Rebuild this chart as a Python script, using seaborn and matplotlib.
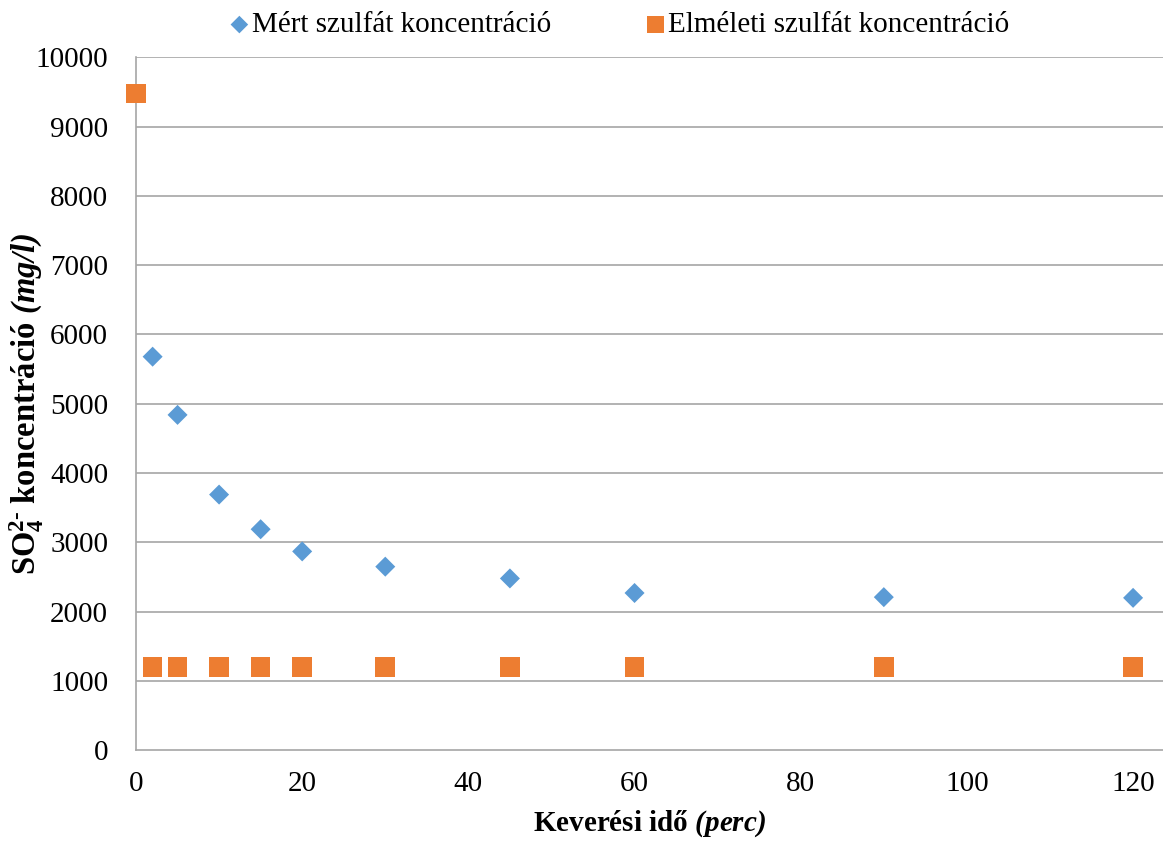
import matplotlib
matplotlib.use("Agg")
import matplotlib.pyplot as plt
import seaborn as sns
import pandas as pd

# Data
time_measured = [2, 5, 10, 15, 20, 30, 45, 60, 90, 120]
sulfate_measured = [5680, 4840, 3690, 3190, 2870, 2650, 2480, 2270, 2210, 2200]
time_theoretical = [0, 2, 5, 10, 15, 20, 30, 45, 60, 90, 120]
sulfate_theoretical = [9480, 1200, 1200, 1200, 1200, 1200, 1200, 1200, 1200, 1200, 1200]
series_names = ["Mért szulfát koncentráció", "Elméleti szulfát koncentráció"]
x_ticks = [0, 20, 40, 60, 80, 100, 120]
y_ticks = list(range(0, 10001, 1000))

sns.set_theme(style="white")
plt.rcParams['font.family'] = ['Liberation Serif', 'DejaVu Serif']
plt.rcParams['text.color'] = 'black'
plt.rcParams['axes.labelcolor'] = 'black'
plt.rcParams['xtick.color'] = 'black'
plt.rcParams['ytick.color'] = 'black'
plt.rcParams['mathtext.fontset'] = 'custom'
plt.rcParams['mathtext.rm'] = 'Liberation Serif:italic:bold'
plt.rcParams['mathtext.it'] = 'Liberation Serif:italic:bold'
plt.rcParams['mathtext.bf'] = 'Liberation Serif:bold'

df_m = pd.DataFrame({"t": time_measured, "c": sulfate_measured})
df_t = pd.DataFrame({"t": time_theoretical, "c": sulfate_theoretical})

fig = plt.figure(figsize=(11.63, 8.41), dpi=100)
ax = fig.add_axes([136/1163, 1 - 750.3/841, 1 - 136/1163, (750.3 - 57.3)/841])

grid_c = "#a6a6a6"
for yv in y_ticks[1:]:
    ax.axhline(yv, color=grid_c, lw=1.2, zorder=0)

sns.scatterplot(data=df_m, x="t", y="c", ax=ax, marker="D", s=104, color="#5B9BD5",
                edgecolor="none", label=series_names[0], clip_on=False, zorder=3)
sns.scatterplot(data=df_t, x="t", y="c", ax=ax, marker="s", s=200, color="#ED7D31",
                edgecolor="none", label=series_names[1], clip_on=False, zorder=3)

ax.set_xlim(0, 123.6)
ax.set_ylim(0, 10000)
ax.set_xticks(x_ticks)
ax.set_yticks(y_ticks)
ax.tick_params(axis="both", labelsize=21, labelcolor="black", direction="out",
               length=6, width=1.2, color=grid_c)
ax.tick_params(axis="y", pad=14)
ax.tick_params(axis="x", pad=9)
for s in ["top", "right"]:
    ax.spines[s].set_visible(False)
for s in ["left", "bottom"]:
    ax.spines[s].set_color(grid_c)
    ax.spines[s].set_linewidth(1.2)

ax.set_xlabel(r"Keverési idő $(perc)$", fontsize=21, fontweight="bold", labelpad=8, color="black")
ax.set_ylabel("$\\mathbf{SO}_{\\mathbf{4}}^{\\mathbf{2\u2010}}$ koncentráció $(mg/l)$", fontsize=23.5,
              fontweight="bold", color="black")
ax.yaxis.set_label_coords(-0.088, 0.5)

leg = ax.legend(loc="center", bbox_to_anchor=(620/1163, 1 - 25/841), bbox_transform=fig.transFigure,
                ncol=2, frameon=False, fontsize=21, handlelength=0.62, handletextpad=0.14,
                columnspacing=3.24, markerscale=0.88, borderpad=0, borderaxespad=0,
                labelcolor="black")

fig.savefig("out.png", dpi=100)
